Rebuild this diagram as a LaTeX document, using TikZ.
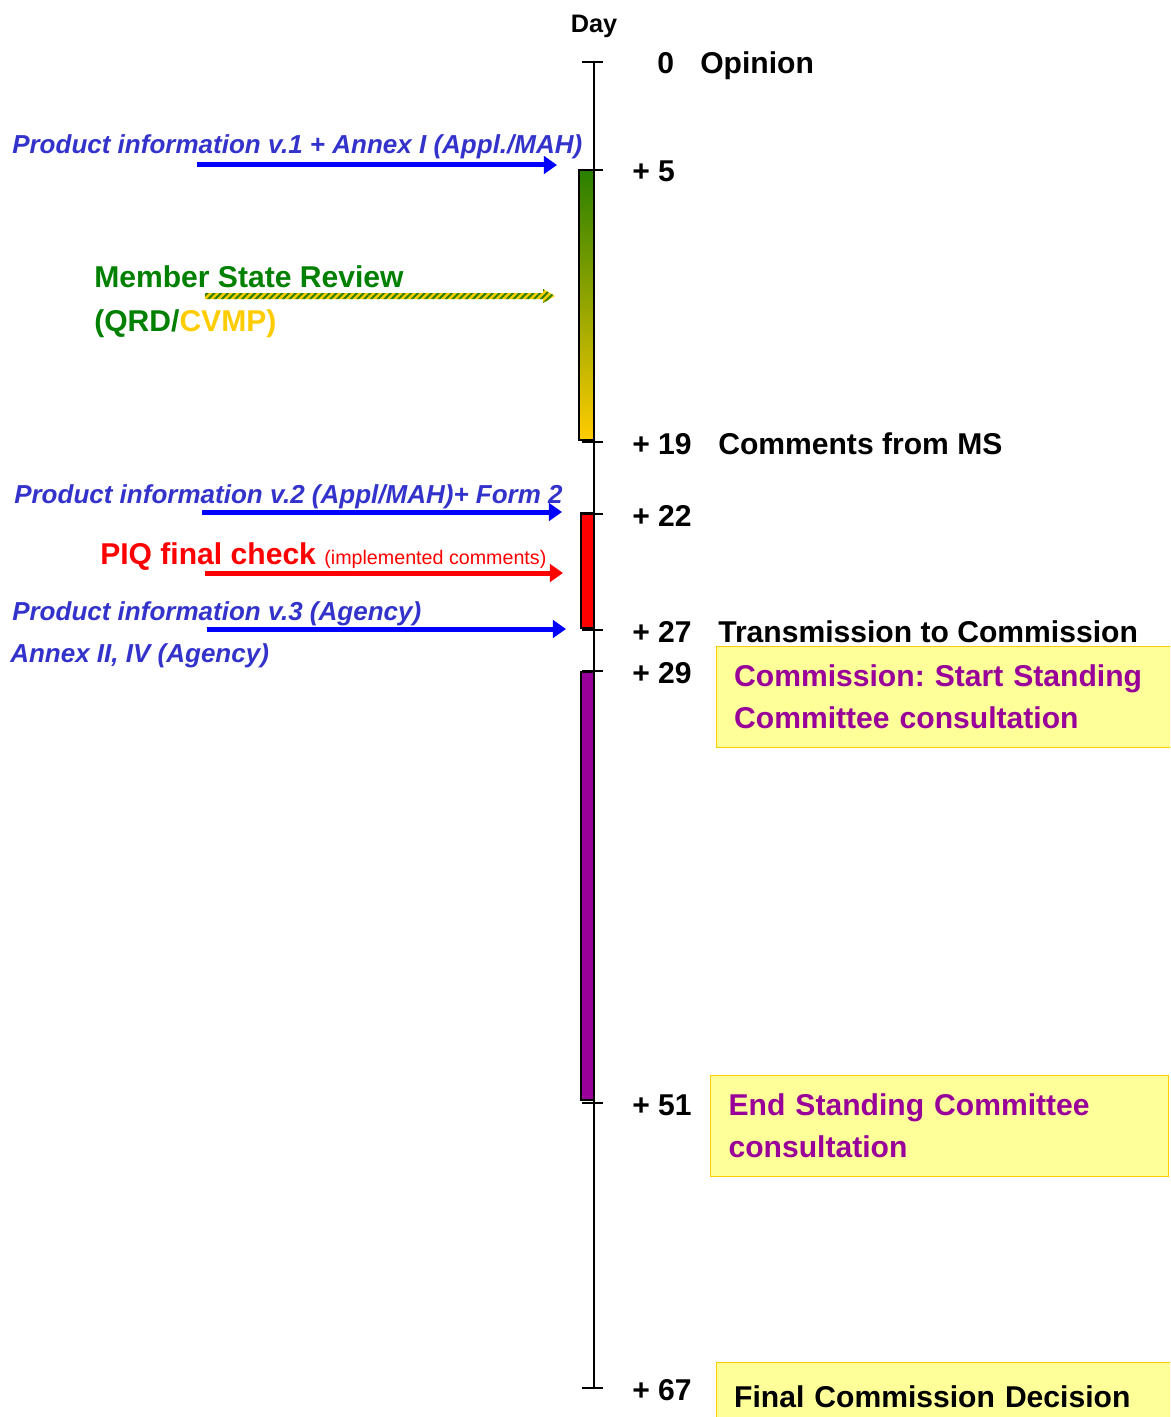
\documentclass[tikz,border=0pt]{standalone}
\usepackage{fontspec}
\setmainfont{Liberation Sans}
\usetikzlibrary{arrows.meta,patterns.meta}
\frenchspacing

\definecolor{piblue}{HTML}{3333CC}
\definecolor{arrblue}{HTML}{0000FF}
\definecolor{msgreen}{HTML}{008000}
\definecolor{msyellow}{HTML}{FFCC00}
\definecolor{scpurple}{HTML}{990099}
\definecolor{boxfill}{HTML}{FFFF99}
\definecolor{bargreen}{HTML}{2A7F00}

\newcommand{\tlbig}{\fontsize{21.4}{29.9}\selectfont\bfseries}
\newcommand{\tlinfo}{\fontsize{18.5}{22}\selectfont\bfseries\itshape}

\begin{document}
\begin{tikzpicture}[x=0.25mm, y=-0.25mm, >={Triangle[length=3.3mm, width=4.4mm]}]

    \tikzset{
        txt/.style={anchor=base west, inner sep=0pt, font=\tlbig},
        info/.style={anchor=base west, inner sep=0pt, font=\tlinfo, text=piblue},
        infoarrow/.style={->, line width=1.25mm, arrblue},
        bar/.style={draw=black, line width=0.4mm},
        scbox/.style={anchor=north west, draw=msyellow, fill=boxfill, line width=0.3mm,
            font=\tlbig, text=scpurple, align=left, inner xsep=4.4mm, inner ysep=0pt}
    }

    \useasboundingbox (0,0) rectangle (1170,1417);
    \clip (0,0) rectangle (1170,1417);

    % --- 1. Bars along the time line ---
    \shade[top color=bargreen, bottom color=msyellow] (579,170) rectangle (594,440);
    \draw[bar] (579,170) rectangle (594,440);
    \draw[bar, fill=red] (581,513) rectangle (594,628);
    \draw[bar, fill=scpurple] (581,672) rectangle (594,1100);

    % --- 2. Time axis and day ticks ---
    \draw[line width=0.35mm] (594,62) -- (594,1388);
    \foreach \d in {62,170,442,514,630,671,1103,1388}
        \draw[line width=0.7mm] (582,\d) -- (603,\d);

    \node[txt, font=\fontsize{18}{22}\selectfont\bfseries, anchor=base] (day) at (594,33) {Day};

    % --- 3. Day numbers and events ---
    \node[txt] (d0) at (657,74) {0};
    \node[txt] (opinion) at (700,74) {Opinion};
    \node[txt] (d5) at (632,181) {+ 5};
    \node[txt] (d19) at (632,454) {+ 19};
    \node[txt] (comments) at (718,454) {Comments from MS};
    \node[txt] (d22) at (632,526) {+ 22};
    \node[txt] (d27) at (632,642) {+ 27};
    \node[txt] (transmission) at (718,642) {Transmission to Commission};
    \node[txt] (d29) at (632,683) {+ 29};
    \node[txt] (d51) at (632,1115) {+ 51};
    \node[txt] (d67) at (632,1400) {+ 67};

    % Standing Committee boxes
    \node[scbox, text width=105mm, minimum height=25.25mm] (startsc) at (716,646)
        {Commission: Start Standing\\Committee consultation};
    \node[scbox, text width=105.5mm, minimum height=25.25mm, inner xsep=4.5mm] (endsc) at (710,1075)
        {End Standing Committee\\consultation};
    \node[scbox, text=black, text width=105mm, minimum height=17mm] (decision) at (716,1362)
        {Final Commission Decision};

    % --- 4. Incoming documents (left side) ---
    \node[info] (piv1) at (12,154) {Product information v.1 + Annex I (Appl./MAH)};
    \coordinate (piv1s) at (197,165);
    \coordinate (piv1e) at (557,165);
    \draw[infoarrow] (piv1s) -- (piv1e);

    \node[txt, text=msgreen] (msreview) at (94,287) {Member State Review};
    \node[txt, text=msgreen] (qrd) at (94,331) {(QRD/\textcolor{msyellow}{CVMP)}};
    % hatched arrow
    \path[fill=msyellow, postaction={pattern={Lines[angle=45, distance=1.2mm, line width=0.5mm]}, pattern color=bargreen}]
        (205,293) -- (543,293) -- (543,289) -- (555,296) -- (543,303) -- (543,299) -- (205,299) -- cycle;

    \node[info] (piv2) at (14,503) {Product information v.2 (Appl/MAH)+ Form 2};
    \coordinate (piv2s) at (202,512);
    \coordinate (piv2e) at (562,512);
    \draw[infoarrow] (piv2s) -- (piv2e);

    \node[txt, text=red] (piq) at (100,564)
        {PIQ final check {\fontsize{14}{16}\selectfont\mdseries (implemented comments)}};
    \coordinate (piqs) at (205,573);
    \coordinate (piqe) at (563,573);
    \draw[infoarrow, red] (piqs) -- (piqe);

    \node[info] (piv3) at (12,620) {Product information v.3 (Agency)};
    \coordinate (piv3s) at (207,629);
    \coordinate (piv3e) at (566,629);
    \draw[infoarrow] (piv3s) -- (piv3e);
    \node[info] (annex) at (10,662) {Annex II, IV (Agency)};

\end{tikzpicture}
\end{document}
